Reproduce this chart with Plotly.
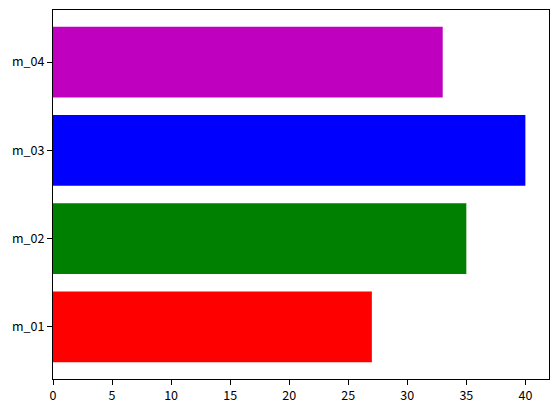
import plotly.graph_objects as go

categories = ["m_01", "m_02", "m_03", "m_04"]
values = [27, 35, 40, 33]
colors = ["#ff0000", "#008000", "#0000ff", "#bf00bf"]
x_ticks = [0, 5, 10, 15, 20, 25, 30, 35, 40]

fig = go.Figure(go.Bar(
    y=list(range(len(categories))), x=values, orientation="h",
    marker=dict(color=colors, line=dict(width=0)), width=0.8,
))

axis_common = dict(
    showline=True, linecolor="black", linewidth=1, mirror=True,
    ticks="outside", ticklen=5, tickwidth=1, tickcolor="black",
    showgrid=False, zeroline=False, automargin=False,
    tickfont=dict(family="Noto Sans CJK KR, Noto Sans, DejaVu Sans", size=12.5, color="black"),
)

# page body has an 8px default margin; compensate so the plot area matches
fig.update_layout(
    width=551, height=404,
    margin=dict(l=45, r=10, t=2, b=33, autoexpand=False),
    plot_bgcolor="white", paper_bgcolor="white",
    showlegend=False,
    xaxis=dict(range=[0, 42], tickvals=x_ticks, **axis_common),
    yaxis=dict(range=[-0.59, 3.59], tickvals=list(range(len(categories))),
               ticktext=categories, **axis_common),
)

fig.write_html("out.html")
